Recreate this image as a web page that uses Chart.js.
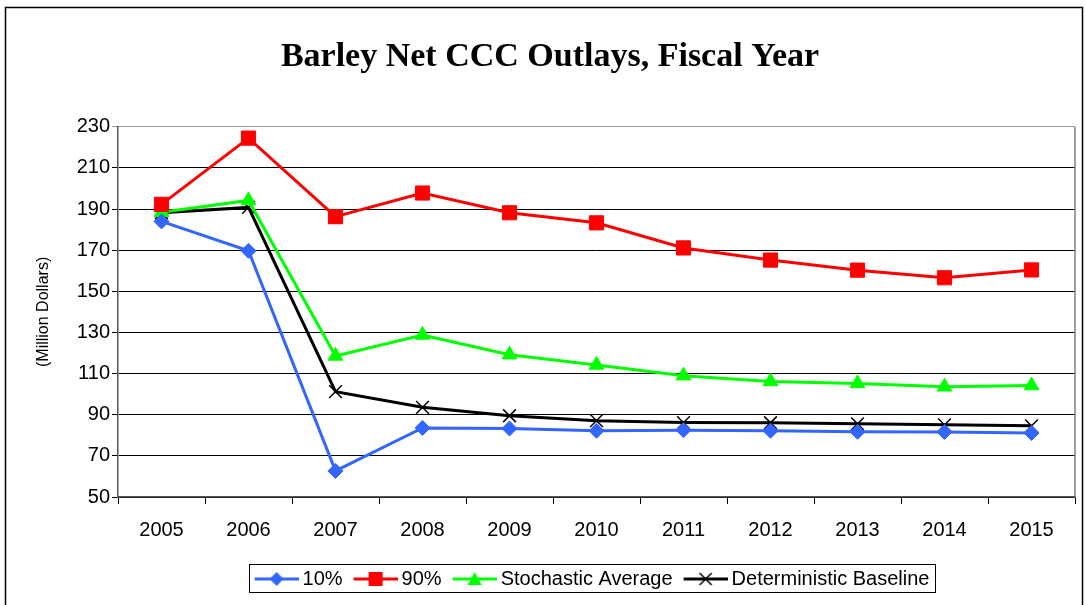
<!DOCTYPE html>
<html>
<head>
<meta charset="utf-8">
<script src="https://cdn.jsdelivr.net/npm/chart.js@4"></script>
<style>
  html, body { margin: 0; padding: 0; background: #fff; }
  #wrap { width: 1086px; height: 605px; }
</style>
</head>
<body>
<div id="wrap"><canvas id="myChart" width="1086" height="605"></canvas></div>
<script>
const years = ['2005', '2006', '2007', '2008', '2009', '2010', '2011', '2012', '2013', '2014', '2015'];
const p10 = [184, 169.7, 62.7, 83.6, 83.3, 82.2, 82.5, 82.2, 81.7, 81.6, 81.1];
const p90 = [192.3, 224.5, 186.3, 197.8, 188.2, 183.3, 171.1, 165.2, 160.3, 156.6, 160.4];
const stochAvg = [188.5, 194.2, 118.6, 128.8, 119.2, 114.2, 109, 106.2, 105.2, 103.6, 104.2];
const detBase = [188.2, 190.8, 101.2, 93.6, 89.5, 87.1, 86.2, 86.1, 85.6, 85.1, 84.6];
const yTicks = [50, 70, 90, 110, 130, 150, 170, 190, 210, 230];

// legend swatch: line with the marker in the middle (50 wide, line from 6 to 50)
function swatch(color, style) {
    const c = document.createElement('canvas');
    c.width = 50; c.height = 18;
    const g = c.getContext('2d');
    g.strokeStyle = color; g.lineWidth = 3;
    g.beginPath(); g.moveTo(6, 9); g.lineTo(50, 9); g.stroke();
    g.fillStyle = color;
    g.beginPath();
    const m = 28;
    if (style === 'diamond') {
        g.moveTo(m, 2); g.lineTo(m + 7, 9); g.lineTo(m, 16); g.lineTo(m - 7, 9); g.closePath(); g.fill();
    } else if (style === 'square') {
        g.fillRect(m - 7, 2, 14, 14);
    } else if (style === 'triangle') {
        g.moveTo(m, 2); g.lineTo(m + 7, 15); g.lineTo(m - 7, 15); g.closePath(); g.fill();
    } else {
        g.lineWidth = 1.5;
        g.moveTo(m - 6, 3); g.lineTo(m + 6, 15); g.moveTo(m + 6, 3); g.lineTo(m - 6, 15); g.stroke();
    }
    return c;
}

const swatches = [
    swatch('#3366FF', 'diamond'),
    swatch('#FF0000', 'square'),
    swatch('#00FF00', 'triangle'),
    swatch('#000000', 'cross')
];

const frame = {
    id: 'frame',
    afterLayout(chart) {
        // legend sits a bit right of centre in the original
        chart.legend.left += 42;
        chart.legend.right += 42;
    },
    beforeDraw(chart) {
        const ctx = chart.ctx;
        ctx.save();
        ctx.strokeStyle = '#000';
        ctx.lineWidth = 1.5;
        ctx.strokeRect(5.5, 7.5, 1077, 700);
        ctx.restore();
    },
    afterDraw(chart) {
        const ctx = chart.ctx;
        const a = chart.chartArea;
        ctx.save();
        ctx.strokeStyle = '#808080';
        ctx.lineWidth = 1.5;
        ctx.beginPath();
        ctx.moveTo(a.right, a.top); ctx.lineTo(a.right, a.bottom);
        ctx.stroke();
        // legend box
        const boxes = chart.legend.legendHitBoxes;
        if (boxes && boxes.length) {
            let l = Infinity, r = -Infinity, t = Infinity, b = -Infinity;
            boxes.forEach(h => {
                l = Math.min(l, h.left); r = Math.max(r, h.left + h.width);
                t = Math.min(t, h.top); b = Math.max(b, h.top + h.height);
            });
            ctx.strokeStyle = '#000';
            ctx.lineWidth = 1;
            ctx.strokeRect(Math.round(l) - 5.5, Math.round(t) - 4.5, Math.round(r - l) + 11, Math.round(b - t) + 8);
        }
        ctx.restore();
    }
};

const ctx = document.getElementById('myChart').getContext('2d');
const myChart = new Chart(ctx, {
    type: 'line',
    data: {
        labels: years,
        datasets: [{
            label: '10%',
            data: p10,
            borderColor: '#3366FF',
            backgroundColor: '#3366FF',
            borderWidth: 3,
            pointStyle: 'rectRot',
            pointRadius: 7.5,
            pointBorderWidth: 1
        }, {
            label: '90%',
            data: p90,
            borderColor: '#FF0000',
            backgroundColor: '#FF0000',
            borderWidth: 3,
            pointStyle: 'rect',
            pointRadius: 10,
            pointBorderWidth: 1
        }, {
            label: 'Stochastic Average',
            data: stochAvg,
            borderColor: '#00FF00',
            backgroundColor: '#00FF00',
            borderWidth: 3,
            pointStyle: 'triangle',
            pointRadius: 8.5,
            pointBorderWidth: 1
        }, {
            label: 'Deterministic Baseline',
            data: detBase,
            borderColor: '#000000',
            backgroundColor: '#000000',
            borderWidth: 3,
            pointStyle: 'crossRot',
            pointRadius: 9,
            pointBorderWidth: 1.5
        }]
    },
    options: {
        responsive: false,
        animation: false,
        events: [],
        layout: { padding: { left: 24, right: 10, top: 0, bottom: 6 } },
        plugins: {
            title: {
                display: true,
                text: 'Barley Net CCC Outlays, Fiscal Year',
                color: '#000',
                font: { family: 'Liberation Serif', size: 34, weight: 'bold' },
                padding: { top: 37, bottom: 49 }
            },
            legend: {
                position: 'bottom',
                labels: {
                    color: '#000',
                    font: { family: 'Liberation Sans', size: 20 },
                    usePointStyle: true,
                    pointStyleWidth: 38,
                    padding: 11,
                    generateLabels(chart) {
                        return chart.data.datasets.map((ds, i) => ({
                            text: ds.label,
                            pointStyle: swatches[i],
                            fillStyle: ds.borderColor,
                            strokeStyle: ds.borderColor,
                            lineWidth: 0,
                            hidden: false,
                            datasetIndex: i,
                            fontColor: '#000'
                        }));
                    }
                }
            },
            tooltip: { enabled: false }
        },
        scales: {
            x: {
                offset: true,
                grid: {
                    offset: true,
                    drawOnChartArea: false,
                    drawTicks: true,
                    tickLength: 7,
                    color: '#000'
                },
                border: { color: '#555', width: 1.5 },
                ticks: {
                    color: '#000',
                    font: { family: 'Liberation Sans', size: 20 },
                    padding: 14,
                    maxRotation: 0
                },
                afterFit(scale) { scale.height = 61; }
            },
            y: {
                min: 50,
                max: 230,
                afterBuildTicks(scale) { scale.ticks = yTicks.map(v => ({ value: v })); },
                grid: {
                    color: ctx => (ctx.tick && ctx.tick.value === 230) ? '#999' : '#000',
                    lineWidth: 1,
                    tickLength: 6
                },
                border: { color: '#555', width: 1.5 },
                ticks: {
                    color: '#000',
                    font: { family: 'Liberation Sans', size: 20 },
                    padding: 2
                },
                title: {
                    display: true,
                    text: '(Million Dollars)',
                    color: '#000',
                    font: { family: 'Liberation Sans', size: 16 },
                    padding: { top: 10, bottom: 0 }
                },
                afterFit(scale) { scale.width = 94; }
            }
        }
    },
    plugins: [frame]
});
</script>
</body>
</html>
